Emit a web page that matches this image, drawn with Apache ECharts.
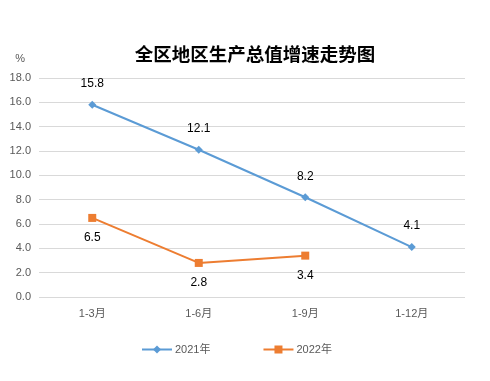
<!DOCTYPE html>
<html><head><meta charset="utf-8">
<script src="https://cdn.jsdelivr.net/npm/echarts@6/dist/echarts.min.js"></script>
<style>html,body{margin:0;padding:0;background:#fff}#c{width:490px;height:381px}</style>
</head><body><div id="c"></div>
<script>
const categories = ['1-3月', '1-6月', '1-9月', '1-12月'];
const series2021 = [15.8, 12.1, 8.2, 4.1];
const series2022 = [6.5, 2.8, 3.4, null];
const seriesNames = ['2021年', '2022年'];
const titleText = '全区地区生产总值增速走势图';
const unitText = '%';

const chart = echarts.init(document.getElementById('c'), null, {renderer: 'canvas'});
const labelStyle = {show: true, color: '#000', fontSize: 12, fontFamily: 'Liberation Sans, Arial',
  formatter: p => p.value == null ? '' : p.value.toFixed(1)};
chart.setOption({
  animation: false,
  title: {text: titleText, left: 250, top: 40, textAlign: 'center',
    textStyle: {fontSize: 18.5, fontWeight: 'bold', color: '#000', fontFamily: 'Noto Sans CJK SC'}},
  legend: {bottom: 26, left: 141, padding: 0, itemGap: 52, itemWidth: 30, itemHeight: 10,
    textStyle: {color: '#595959', fontSize: 11, fontFamily: 'Liberation Sans, Noto Sans CJK SC', padding: [0, 0, 0, -2]},
    data: seriesNames},
  grid: {left: 39, right: 25, top: 78, bottom: 84},
  xAxis: {type: 'category', data: categories, boundaryGap: true,
    axisLine: {show: false}, axisTick: {show: false},
    axisLabel: {color: '#595959', fontSize: 11, margin: 11, fontFamily: 'Liberation Sans, Noto Sans CJK SC'}},
  yAxis: {type: 'value', min: 0, max: 18, interval: 2, name: unitText,
    nameLocation: 'end', nameGap: 14, nameTextStyle: {color: '#595959', fontSize: 11, align: 'right', padding: [0, 14, 0, 0]},
    axisLine: {show: false}, axisTick: {show: false},
    axisLabel: {color: '#595959', fontSize: 11, margin: 8, formatter: v => v.toFixed(1), fontFamily: 'Liberation Sans, Arial'},
    splitLine: {lineStyle: {color: '#d9d9d9', width: 1}}},
  series: [
    {name: seriesNames[0], type: 'line', data: series2021, symbol: 'diamond', symbolSize: 8,
      itemStyle: {color: '#5b9bd5'}, lineStyle: {width: 2, color: '#5b9bd5'},
      label: Object.assign({}, labelStyle, {position: 'top', distance: 11})},
    {name: seriesNames[1], type: 'line', data: series2022, symbol: 'rect', symbolSize: 8,
      itemStyle: {color: '#ed7d31'}, lineStyle: {width: 2, color: '#ed7d31'},
      label: Object.assign({}, labelStyle, {position: 'bottom', distance: 10})}
  ]
});
</script></body></html>
